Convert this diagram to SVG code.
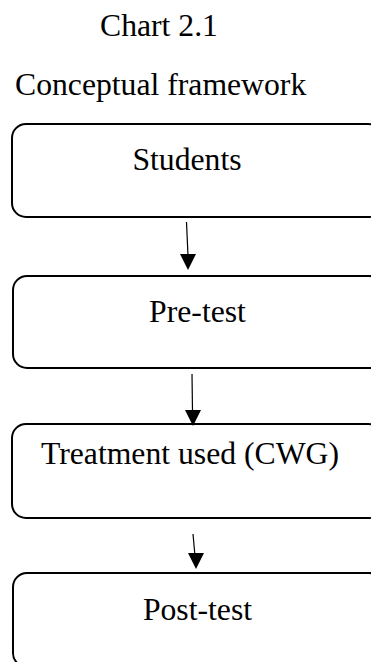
<svg xmlns="http://www.w3.org/2000/svg" width="371" height="662" viewBox="0 0 371 662">
<style>
.box{fill:#fff;stroke:#000;stroke-width:2}
.t{font-family:"Liberation Serif","Times New Roman",serif;font-size:31.7px;fill:#000}
.c{stroke:#000;stroke-width:1.2;fill:none}
.h{fill:#000}
</style>
<rect width="371" height="662" fill="#fff"/>
<text class="t" x="100" y="36">Chart 2.1</text>
<text class="t" x="15" y="95">Conceptual framework</text>
<g id="students">
<rect class="box" x="12" y="124" width="370" height="93" rx="14"/>
<text class="t" x="187" y="170" text-anchor="middle">Students</text>
</g>
<g id="pretest">
<rect class="box" x="13" y="276" width="370" height="92" rx="14"/>
<text class="t" x="197.5" y="322" text-anchor="middle">Pre-test</text>
</g>
<g id="treatment">
<rect class="box" x="12" y="424" width="370" height="94" rx="14"/>
<text class="t" x="190" y="464" text-anchor="middle">Treatment used (CWG)</text>
</g>
<g id="posttest">
<rect class="box" x="13" y="573" width="370" height="94" rx="14"/>
<text class="t" x="197.5" y="620" text-anchor="middle">Post-test</text>
</g>
<g id="connectors">
<line class="c" x1="186.5" y1="222" x2="188" y2="256"/>
<polygon class="h" points="180,254 196,254 188,270"/>
<line class="c" x1="192" y1="374" x2="192.5" y2="412"/>
<polygon class="h" points="185,410 201,410 193,426"/>
<line class="c" x1="193" y1="534" x2="195" y2="556"/>
<polygon class="h" points="188,553 204,553 196,569"/>
</g>
</svg>
